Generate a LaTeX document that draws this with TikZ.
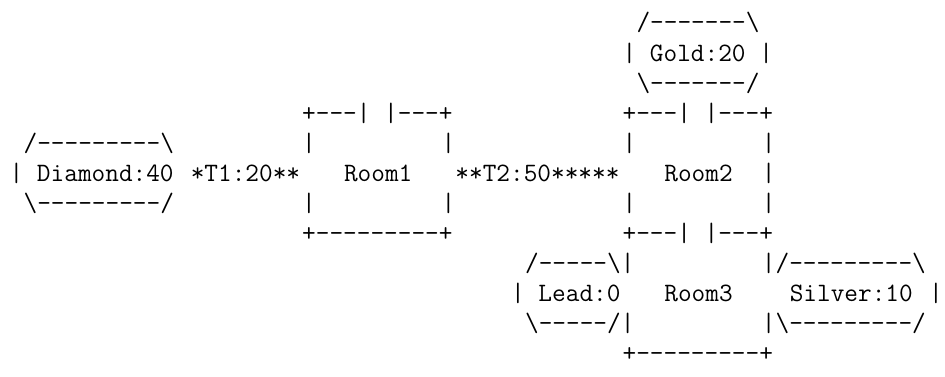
\documentclass[tikz,border=0pt]{standalone}
\begin{document}
\begin{tikzpicture}[x=1pt,y=1pt,
  txt/.style={inner sep=0pt,outer sep=0pt,anchor=base west,
    font=\fontsize{26.53pt}{30pt}\selectfont\ttfamily,text=black}]
\def\xo{9.7}
\def\cw{13.93}
\newcommand\dashes[1]{\foreach\i in {1,...,#1}{-\kern0pt}}
\newcommand\bs{\textbackslash}
\newcommand\cell[4]{\node[txt] (#1) at ({\xo+#2*\cw},{345-30*#3}) {#4};}
\fill[white] (0,0) rectangle (945,376);
\useasboundingbox (0,0) rectangle (945,376);
% Gold
\cell{goldtop}{45}{0}{/\dashes{7}\bs}
\cell{goldmid}{44}{1}{|~Gold:20~|}
\cell{goldbot}{45}{2}{\bs\dashes{7}/}
% room tops
\cell{roomAtop}{21}{3}{+\dashes{3}|~|\dashes{3}+}
\cell{roomBtop}{44}{3}{+\dashes{3}|~|\dashes{3}+}
% row 4
\cell{diamtop}{1}{4}{/\dashes{9}\bs}
\cell{roomAwlA}{21}{4}{|}
\cell{roomAwrA}{31}{4}{|}
\cell{roomBwlA}{44}{4}{|}
\cell{roomBwrA}{54}{4}{|}
% row 5
\cell{diammid}{0}{5}{|~Diamond:40}
\cell{tA}{13}{5}{*T1:20**}
\cell{roomA}{24}{5}{Room1}
\cell{tB}{32}{5}{**T2:50*****}
\cell{roomB}{47}{5}{Room2}
\cell{roomBwrB}{54}{5}{|}
% row 6
\cell{diambot}{1}{6}{\bs\dashes{9}/}
\cell{roomAwlC}{21}{6}{|}
\cell{roomAwrC}{31}{6}{|}
\cell{roomBwlC}{44}{6}{|}
\cell{roomBwrC}{54}{6}{|}
% row 7
\cell{roomAbot}{21}{7}{+\dashes{9}+}
\cell{roomBbot}{44}{7}{+\dashes{3}|~|\dashes{3}+}
% row 8
\cell{leadtop}{37}{8}{/\dashes{5}\bs|}
\cell{silvtop}{54}{8}{|/\dashes{9}\bs}
% row 9
\cell{leadmid}{36}{9}{|~Lead:0}
\cell{roomC}{47}{9}{Room3}
\cell{silvmid}{56}{9}{Silver:10}
\cell{silvwall}{66}{9}{|}
% row 10
\cell{leadbot}{37}{10}{\bs\dashes{5}/|}
\cell{silvbot}{54}{10}{|\bs\dashes{9}/}
% row 11
\cell{roomCbot}{44}{11}{+\dashes{9}+}
\end{tikzpicture}
\end{document}
